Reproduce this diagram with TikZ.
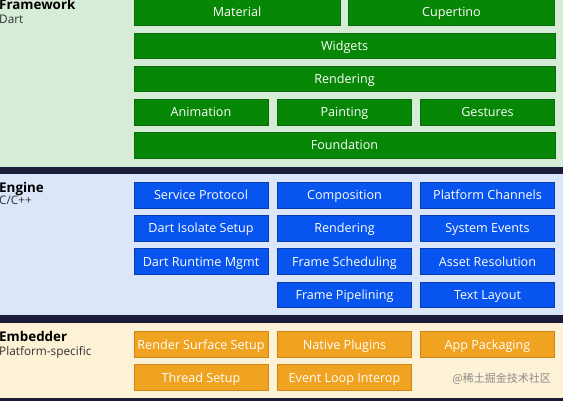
\documentclass[tikz,border=0pt]{standalone}
\usepackage{fontspec}
\setmainfont{Open Sans}
\newfontfamily\cjkfont{Noto Sans CJK SC}
\definecolor{gfill}{RGB}{6,136,6}
\definecolor{gline}{RGB}{10,105,10}
\definecolor{bfill}{RGB}{8,84,238}
\definecolor{bline}{RGB}{10,60,170}
\definecolor{ofill}{RGB}{240,163,32}
\definecolor{oline}{RGB}{205,135,25}
\definecolor{gbg}{RGB}{214,236,214}
\definecolor{bbg}{RGB}{220,230,250}
\definecolor{obg}{RGB}{253,241,214}
\definecolor{darkband}{RGB}{26,28,58}
\tikzset{
  layerbox/.style={minimum height=25.5pt, inner sep=0pt, text height=10pt, text depth=1pt, text=white, line width=0.8pt, font=\fontsize{12.6}{14}\selectfont},
  gbox/.style={layerbox, fill=gfill, draw=gline},
  bbox/.style={layerbox, fill=bfill, draw=bline},
  obox/.style={layerbox, fill=ofill, draw=oline},
  wthree/.style={minimum width=134pt},
  wtwo/.style={minimum width=206pt},
  wfull/.style={minimum width=421pt},
  title/.style={anchor=base west, inner sep=0pt, font=\bfseries\fontsize{13.4}{15}\selectfont},
  subtitle/.style={anchor=base west, inner sep=0pt, font=\fontsize{11.8}{13}\selectfont, text=black!80}
}
\begin{document}
\begin{tikzpicture}[x=1pt,y=-1pt]
\useasboundingbox (0,0) rectangle (563,401);
% bands
\fill[gbg] (0,0) rectangle (563,167.5);
\fill[darkband] (0,167.5) rectangle (563,174);
\fill[bbg] (0,174) rectangle (563,315);
\fill[darkband] (0,315) rectangle (563,323);
\fill[obg] (0,323) rectangle (563,398);
\fill[darkband] (0,398) rectangle (563,401);
% titles
\node[title] (tfw) at (-1,10) {Framework};
\node[subtitle] (sfw) at (-1,23.5) {Dart};
\node[title] (ten) at (-1,192.3) {Engine};
\node[subtitle] (sen) at (-1,205) {C/C++};
\node[title] (tem) at (-1,341.7) {Embedder};
\node[subtitle] (sem) at (-1,355) {Platform-specific};
% framework
\node[gbox, wtwo] (material) at (237,12.5) {Material};
\node[gbox, wtwo] (cupertino) at (451.5,12.5) {Cupertino};
\node[gbox, wfull] (widgets) at (344.5,46) {Widgets};
\node[gbox, wfull] (frender) at (344.5,79) {Rendering};
\node[gbox, wthree] (animation) at (201,112.5) {Animation};
\node[gbox, wthree] (painting) at (344.5,112.5) {Painting};
\node[gbox, wthree] (gestures) at (487.5,112.5) {Gestures};
\node[gbox, wfull] (foundation) at (344.5,145.5) {Foundation};
% engine
\node[bbox, wthree] (service) at (201,195.5) {Service Protocol};
\node[bbox, wthree] (composition) at (344.5,195.5) {Composition};
\node[bbox, wthree] (channels) at (487.5,195.5) {Platform Channels};
\node[bbox, wthree] (isolate) at (201,228.5) {Dart Isolate Setup};
\node[bbox, wthree] (erender) at (344.5,228.5) {Rendering};
\node[bbox, wthree] (sysevents) at (487.5,228.5) {System Events};
\node[bbox, wthree] (runtime) at (201,261.5) {Dart Runtime Mgmt};
\node[bbox, wthree] (scheduling) at (344.5,261.5) {Frame Scheduling};
\node[bbox, wthree] (assets) at (487.5,261.5) {Asset Resolution};
\node[bbox, wthree] (pipelining) at (344.5,295) {Frame Pipelining};
\node[bbox, wthree] (textlayout) at (487.5,295) {Text Layout};
% embedder
\node[obox, wthree] (surface) at (201,344.5) {Render Surface Setup};
\node[obox, wthree] (plugins) at (344.5,344.5) {Native Plugins};
\node[obox, wthree] (packaging) at (487.5,344.5) {App Packaging};
\node[obox, wthree] (thread) at (201,377.5) {Thread Setup};
\node[obox, wthree] (eventloop) at (344.5,377.5) {Event Loop Interop};
\node[anchor=east, inner sep=0pt, text=black!45, font=\cjkfont\fontsize{11}{13}\selectfont] (wm) at (551,379) {@稀土掘金技术社区};
\end{tikzpicture}
\end{document}
